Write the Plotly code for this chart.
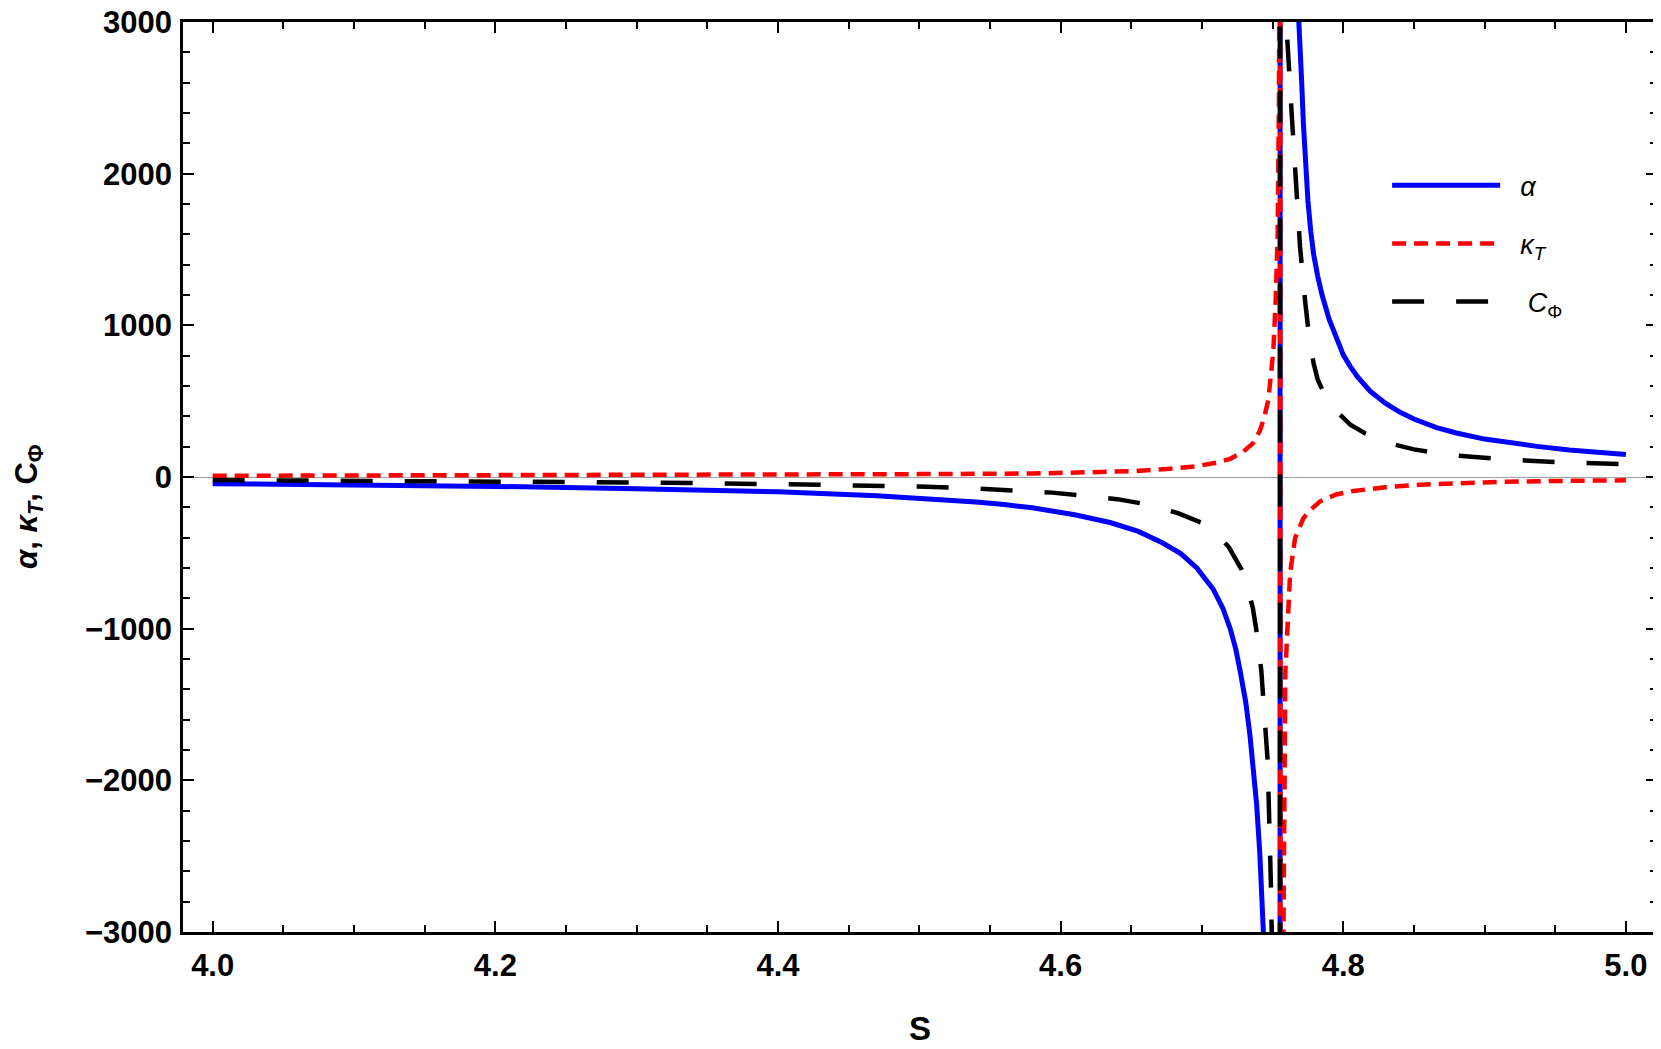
import plotly.graph_objects as go

# values (S, quantity); the points just past the frame
# near the pole are estimates of where each branch runs off the chart
S_ALPHA = [4.0, 4.1, 4.2, 4.3, 4.4, 4.47, 4.5, 4.54, 4.56, 4.58, 4.61, 4.635,
           4.655, 4.672, 4.685, 4.6964, 4.708, 4.715, 4.72, 4.724, 4.727, 4.731,
           4.734, 4.7365, 4.7387, 4.741, 4.7435, 4.748, 4.752, 4.755,
           4.7556, 4.758, 4.762, 4.7655, 4.769, 4.7705, 4.7718, 4.7735, 4.775,
           4.777, 4.779, 4.782, 4.785, 4.79, 4.7955, 4.8, 4.805, 4.81, 4.819,
           4.83, 4.84, 4.85, 4.866, 4.88, 4.9, 4.92, 4.937, 4.96, 4.97, 5.0]
ALPHA = [-44, -52, -62, -77, -98, -124, -140, -165, -182, -203, -249, -300,
         -359, -434, -505, -600, -740, -870, -1000, -1137, -1278, -1485,
         -1704, -1928, -2158, -2490, -3005, -4700, -10000, -60000,
         60000, 14000, 5500, 3600, 3000, 2620, 2330, 2030, 1820,
         1620, 1470, 1320, 1200, 1040, 900, 805, 728, 662, 566,
         485, 428, 382, 325, 290, 250, 222, 202, 178, 170, 148]

S_KAPPA = [4.0, 4.1, 4.2, 4.3, 4.4, 4.5, 4.58, 4.628, 4.65, 4.675, 4.695, 4.7105,
           4.72, 4.729, 4.733, 4.736, 4.741, 4.744, 4.747, 4.7505, 4.7522,
           4.7536, 4.7545, 4.755, 4.7553,
           4.7556, 4.7577, 4.7584, 4.759, 4.7624, 4.7659, 4.7718, 4.777, 4.7836,
           4.795, 4.807, 4.83, 4.854, 4.88, 4.913, 4.95, 4.9958, 5.0]
KAPPA = [8, 9, 10, 12, 15, 19, 23, 30, 38, 53, 70, 94,
         120, 165, 195, 222, 305, 390, 510, 830, 1170,
         1610, 2500, 4000, 40000,
         -40000, -3000, -1900, -1294, -633, -403, -271, -215, -161,
         -115, -92, -68, -51, -40, -32, -26, -22, -22]

S_CPHI = [4.0, 4.1, 4.2, 4.3, 4.4, 4.505, 4.55, 4.594, 4.64, 4.66, 4.683, 4.7,
          4.71, 4.719, 4.728, 4.732, 4.736, 4.739, 4.742, 4.7465, 4.749, 4.7515,
          4.755,
          4.7556, 4.7585, 4.76, 4.7636, 4.7659, 4.7694, 4.773, 4.776, 4.779,
          4.782, 4.787, 4.7966, 4.805, 4.815, 4.833, 4.85, 4.878, 4.9, 4.9227,
          4.95, 4.9675, 5.0]
CPHI = [-20, -24, -29, -36, -47, -64, -80, -103, -146, -179, -238, -303,
        -372, -462, -609, -721, -863, -1040, -1277, -1870, -2760, -4500,
        -60000,
        60000, 7000, 2950, 2380, 2040, 1520, 1160, 910, 750,
        640, 540, 420, 345, 290, 222, 182, 142, 125, 112,
        99, 92, 84]

X_TICKS = [4.0, 4.2, 4.4, 4.6, 4.8, 5.0]
X_TICK_TEXT = ["4.0", "4.2", "4.4", "4.6", "4.8", "5.0"]
Y_TICKS = [-3000, -2000, -1000, 0, 1000, 2000, 3000]
Y_TICK_TEXT = ["\u22123000", "\u22122000", "\u22121000", "0", "1000", "2000", "3000"]

fig = go.Figure()

fig.add_trace(go.Scatter(
    x=S_ALPHA, y=ALPHA, mode="lines", name="\u00a0\u00a0<i>α</i>",
    legendgroup="a", line=dict(color="#0000ff", width=5)
))
fig.add_trace(go.Scatter(
    x=S_KAPPA, y=KAPPA, mode="lines",
    name="\u00a0\u00a0<i>κ</i><sub><i>T</i></sub>",
    legendgroup="k", line=dict(color="#ff0000", width=4.5, dash="14px,8px")
))
fig.add_trace(go.Scatter(
    x=S_CPHI, y=CPHI, mode="lines",
    name="\u00a0\u00a0\u00a0<i>C</i><sub>Φ</sub>",
    legendgroup="c", line=dict(color="#000000", width=4.5, dash="32px,32px")
))

tick_font = dict(family="Liberation Sans", size=31, color="black", weight="bold")
axis_common = dict(
    showline=True, linecolor="black", linewidth=2.5, mirror="allticks",
    ticks="inside", ticklen=11, tickwidth=2, tickcolor="black",
    showgrid=False, automargin=False, tickfont=tick_font,
    ticklabeloverflow="allow",
)

# the page puts the plot 8 px in from the top-left corner, so the margins
# are set to land the frame where the reference has it
fig.update_layout(
    width=1661, height=1049,
    margin=dict(l=175, r=12, t=14, b=125),
    plot_bgcolor="white", paper_bgcolor="white",
    showlegend=True,
    legend=dict(
        x=0.8169, y=0.847, xanchor="left", yanchor="top",
        bgcolor="rgba(0,0,0,0)", itemwidth=108, tracegroupgap=20,
        font=dict(family="Liberation Sans", size=27, color="black"),
    ),
    xaxis=dict(
        axis_common, range=[3.979, 5.022],
        tickvals=X_TICKS, ticktext=X_TICK_TEXT,
        minor=dict(ticks="inside", dtick=0.05, tick0=4.0, ticklen=7,
                   tickwidth=1.5, tickcolor="black"),
        zeroline=False, ticklabelstandoff=4,
        title=dict(text="<b>S</b>", standoff=35,
                   font=dict(family="Liberation Sans", size=33, color="black")),
    ),
    yaxis=dict(
        axis_common, range=[-3000, 3000],
        tickvals=Y_TICKS, ticktext=Y_TICK_TEXT,
        minor=dict(ticks="inside", dtick=200, tick0=0, ticklen=7,
                   tickwidth=1.5, tickcolor="black"),
        zeroline=True, zerolinecolor="#a0a0a0", zerolinewidth=1,
        ticklabelstandoff=2,
    ),
    annotations=[dict(
        text="<b><i>α</i>, <i>κ</i><sub><i>T</i></sub>, C<sub>Φ</sub></b>",
        xref="paper", yref="paper", x=-0.1045, y=0.468,
        xanchor="center", yanchor="middle", textangle=-90, showarrow=False,
        font=dict(family="Liberation Sans", size=31, color="black"),
    )],
)

fig.write_html("out.html")
